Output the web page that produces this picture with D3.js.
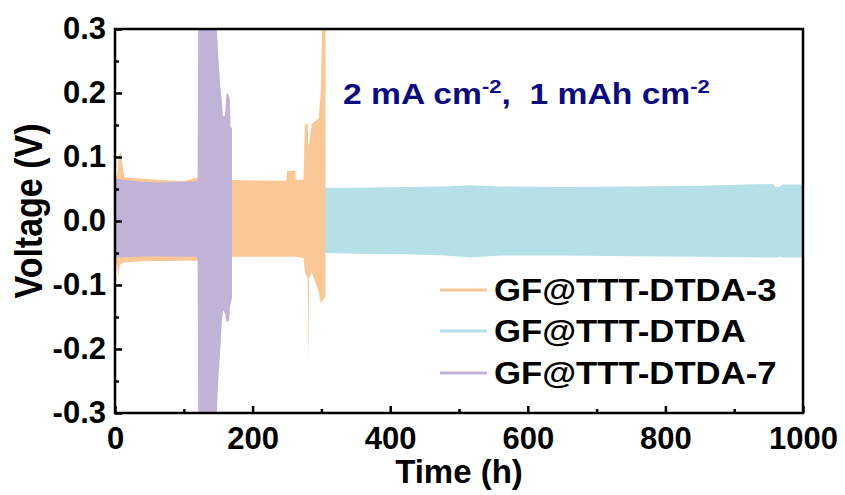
<!DOCTYPE html>
<html>
<head>
<meta charset="utf-8">
<script src="https://cdn.jsdelivr.net/npm/d3@7"></script>
<style>
  body { margin: 0; background: #fff; }
  svg text { font-family: "Liberation Sans", Arial, sans-serif; font-weight: bold; }
</style>
</head>
<body>
<svg id="chart" width="845" height="495"></svg>
<script>
// series names / legend
var seriesNames = ["GF@TTT-DTDA-3", "GF@TTT-DTDA", "GF@TTT-DTDA-7"];
var seriesColors = ["#f9c896", "#b5e0e8", "#c1b2d7"];

// envelope of the voltage oscillation (upper / lower)
var cyanTime = [0, 2, 10, 100, 200, 306, 350, 420, 480, 516, 560, 650, 750, 850, 956, 960, 966, 970, 1000];
var cyanHigh = [0.085, 0.06, 0.055, 0.055, 0.054, 0.052, 0.052, 0.053, 0.054, 0.056, 0.054, 0.053, 0.054, 0.055, 0.058, 0.053, 0.053, 0.057, 0.057];
var cyanLow  = [-0.05, -0.05, -0.05, -0.05, -0.05, -0.05, -0.051, -0.052, -0.054, -0.057, -0.054, -0.054, -0.055, -0.056, -0.057, -0.057, -0.056, -0.057, -0.057];

var orangeTime = [0, 3, 5, 7, 8, 11, 14, 40, 100, 120, 170, 230, 249, 250, 262, 263, 274, 276, 280, 281, 282, 286, 296, 299, 301, 305, 306];
var orangeHigh = [0.07, 0.07, 0.095, 0.105, 0.11, 0.085, 0.068, 0.066, 0.062, 0.068, 0.064, 0.063, 0.063, 0.078, 0.078, 0.064, 0.065, 0.15, 0.153, 0.12, 0.12, 0.152, 0.16, 0.2, 0.3, 0.3, 0.3];
var orangeLow  = [-0.065, -0.07, -0.088, -0.07, -0.068, -0.066, -0.065, -0.063, -0.062, -0.062, -0.056, -0.056, -0.056, -0.056, -0.056, -0.056, -0.058, -0.08, -0.09, -0.222, -0.09, -0.08, -0.11, -0.128, -0.125, -0.12, -0.12];

var purpleTime = [0, 30, 60, 90, 118, 120, 121, 148, 150, 153, 155, 157, 160, 162, 164, 166, 167, 168, 170];
var purpleHigh = [0.066, 0.062, 0.06, 0.061, 0.062, 0.063, 0.3, 0.3, 0.26, 0.21, 0.19, 0.163, 0.165, 0.2, 0.198, 0.195, 0.19, 0.147, 0.145];
var purpleLow  = [-0.057, -0.056, -0.055, -0.056, -0.056, -0.057, -0.3, -0.3, -0.25, -0.2, -0.16, -0.139, -0.145, -0.157, -0.157, -0.155, -0.134, -0.13, -0.12];

var xTicks = [0, 200, 400, 600, 800, 1000];
var xMinor = [100, 300, 500, 700, 900];
var yTicks = [-0.3, -0.2, -0.1, 0.0, 0.1, 0.2, 0.3];
var yMinor = [-0.25, -0.15, -0.05, 0.05, 0.15, 0.25];

// plot box (window.top is reserved, so prefixed names)
var plotL = 115, plotR = 803, plotT = 29, plotB = 413;

var svg = d3.select('#chart');

var x = d3.scaleLinear().domain([0, 1000]).range([plotL, plotR]);
var y = d3.scaleLinear().domain([-0.3, 0.3]).range([plotB, plotT]);

svg.append('clipPath').attr('id', 'plotclip')
  .append('rect')
  .attr('x', plotL).attr('y', plotT)
  .attr('width', plotR - plotL).attr('height', plotB - plotT);

function toRows(t, hi, lo){
  return t.map(function(d, i){ return { t: d, hi: hi[i], lo: lo[i] }; });
}

var area = d3.area()
  .x(function(d){ return x(d.t); })
  .y0(function(d){ return y(d.lo); })
  .y1(function(d){ return y(d.hi); });

var plot = svg.append('g').attr('clip-path', 'url(#plotclip)');

// cyan at the back, then orange, purple on top
plot.append('path').datum(toRows(cyanTime, cyanHigh, cyanLow))
  .attr('d', area).attr('fill', seriesColors[1]);
plot.append('path').datum(toRows(orangeTime, orangeHigh, orangeLow))
  .attr('d', area).attr('fill', seriesColors[0]);
plot.append('path').datum(toRows(purpleTime, purpleHigh, purpleLow))
  .attr('d', area).attr('fill', seriesColors[2]);

// axes, ticks pointing inward
svg.append('g').attr('transform', 'translate(0,' + plotB + ')')
  .call(d3.axisBottom(x).tickValues(xTicks).tickSizeInner(-7).tickSizeOuter(0).tickPadding(14)
    .tickFormat(function(d){ return d; }));
svg.append('g').attr('transform', 'translate(0,' + plotB + ')')
  .call(d3.axisBottom(x).tickValues(xMinor).tickSizeInner(-4).tickSizeOuter(0).tickFormat(''));

svg.append('g').attr('transform', 'translate(' + plotL + ',0)')
  .call(d3.axisLeft(y).tickValues(yTicks).tickSizeInner(-7).tickSizeOuter(0).tickPadding(9)
    .tickFormat(function(d){ return d.toFixed(1); }));
svg.append('g').attr('transform', 'translate(' + plotL + ',0)')
  .call(d3.axisLeft(y).tickValues(yMinor).tickSizeInner(-4).tickSizeOuter(0).tickFormat(''));

svg.selectAll('.domain').remove();
svg.selectAll('.tick line').attr('stroke', '#000').attr('stroke-width', 2.5);
svg.selectAll('.tick text').attr('fill', '#000').style('font-size', '31px');

svg.append('rect')
  .attr('x', plotL).attr('y', plotT)
  .attr('width', plotR - plotL).attr('height', plotB - plotT)
  .attr('fill', 'none').attr('stroke', '#000').attr('stroke-width', 2.5);

// axis titles
svg.append('text')
  .attr('x', (plotL + plotR) / 2).attr('y', 483)
  .attr('text-anchor', 'middle').style('font-size', '33px')
  .text('Time (h)');

svg.append('text')
  .attr('transform', 'translate(42,211) scale(1.15,1) rotate(-90)')
  .attr('text-anchor', 'middle').style('font-size', '34px')
  .text('Voltage (V)');

// condition label (the original lettering is a little wider than Arial)
var note = svg.append('text')
  .attr('transform', 'translate(343,104) scale(1.16,1)')
  .attr('fill', '#0c0c7c')
  .style('font-size', '29px')
  .style('white-space', 'pre');
note.append('tspan').text('2 mA cm');
note.append('tspan').attr('dy', -11).style('font-size', '19px').text('-2');
note.append('tspan').attr('dy', 11).text(',  1 mAh cm');
note.append('tspan').attr('dy', -11).style('font-size', '19px').text('-2');

// legend
var legend = svg.append('g');
var legendY = [290, 331, 373];
seriesNames.forEach(function(name, i){
  legend.append('line')
    .attr('x1', 440).attr('x2', 487)
    .attr('y1', legendY[i]).attr('y2', legendY[i])
    .attr('stroke', seriesColors[i]).attr('stroke-width', 3);
  legend.append('text')
    .attr('transform', 'translate(494,' + legendY[i] + ') scale(1.12,1)')
    .attr('dy', '0.36em')
    .style('font-size', '31px')
    .text(name);
});
</script>
</body>
</html>
